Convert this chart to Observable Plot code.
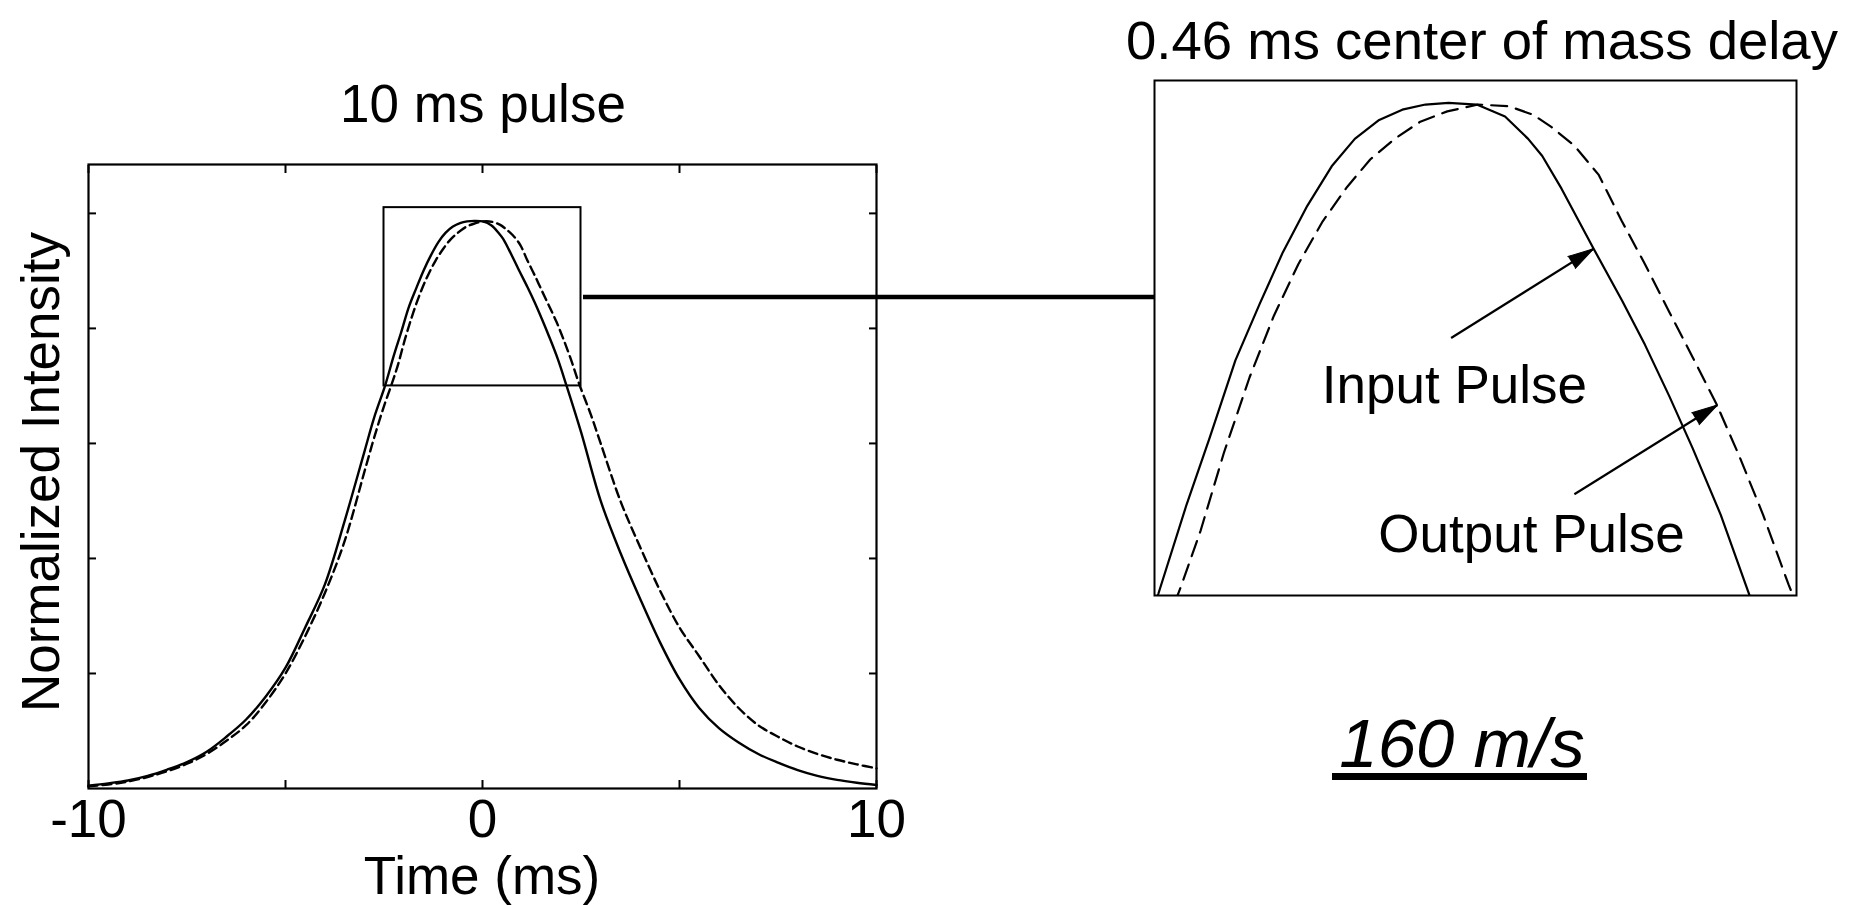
<!DOCTYPE html>
<html>
<head>
<meta charset="utf-8">
<script src="https://cdn.jsdelivr.net/npm/d3@7"></script>
<script src="https://cdn.jsdelivr.net/npm/@observablehq/plot@0.6"></script>
<style>
  body { margin: 0; background: #fff; }
  #page { position: relative; width: 1864px; height: 905px; overflow: hidden; background: #fff; }
  #page > svg { position: absolute; }
</style>
</head>
<body>
<div id="page"></div>
<script>
// Measured pulse shapes (normalized intensity vs. time in ms)
const inputTime = [-10, -9.5, -9, -8.5, -8, -7.5, -7, -6.5, -6, -5.5, -5, -4.5, -4, -3.5, -3, -2.75,
  -2.47, -2.25, -2.07, -1.87, -1.68, -1.5, -1.31, -1.12, -0.94, -0.75, -0.57, -0.39, -0.21, 0.01,
  0.23, 0.41, 0.52, 0.67, 0.92, 1.14, 1.32, 1.51, 1.69, 1.91, 2.13, 2.5, 3, 3.5, 4, 4.5, 5, 5.5,
  6, 6.5, 7, 7.5, 8, 8.5, 9, 9.5, 10];
const inputPulse = [0.005, 0.009, 0.014, 0.022, 0.033, 0.046, 0.064, 0.09, 0.12, 0.16, 0.21, 0.28, 0.355, 0.465, 0.585, 0.645,
  0.701, 0.753, 0.792, 0.837, 0.87, 0.9, 0.927, 0.95, 0.966, 0.977, 0.983, 0.986, 0.987, 0.986,
  0.979, 0.966, 0.956, 0.937, 0.902, 0.872, 0.846, 0.816, 0.786, 0.747, 0.701, 0.62, 0.5, 0.41, 0.33, 0.255, 0.19, 0.14,
  0.105, 0.08, 0.06, 0.045, 0.032, 0.022, 0.015, 0.01, 0.006];

const outputTime = [-10, -9.5, -9, -8.5, -8, -7.5, -7, -6.5, -6, -5.5, -5, -4.5, -4, -3.5, -3, -2.75, -2.5,
  -2.29, -2.14, -1.96, -1.76, -1.57, -1.38, -1.19, -1.0, -0.82, -0.63, -0.43, -0.22, 0.02, 0.26, 0.45,
  0.59, 0.77, 0.96, 1.14, 1.32, 1.51, 1.69, 1.88, 2.05, 2.24, 2.44, 2.75, 3, 3.5, 4, 4.5, 5, 5.5,
  6, 6.5, 7, 7.5, 8, 8.5, 9, 9.5, 10];
const outputPulse = [0.004, 0.007, 0.012, 0.02, 0.03, 0.043, 0.06, 0.083, 0.11, 0.15, 0.2, 0.265, 0.34, 0.43, 0.55, 0.61, 0.665,
  0.706, 0.738, 0.783, 0.827, 0.863, 0.893, 0.918, 0.938, 0.954, 0.966, 0.976, 0.982, 0.986, 0.985, 0.98,
  0.973, 0.962, 0.945, 0.918, 0.893, 0.865, 0.839, 0.811, 0.782, 0.747, 0.706, 0.65, 0.6, 0.5, 0.42, 0.345, 0.28, 0.23,
  0.18, 0.14, 0.11, 0.09, 0.073, 0.06, 0.05, 0.042, 0.035];

// Axis ticks
const timeTicks = [-10, -5, 0, 5, 10];
const timeTickLabels = [-10, 0, 10];
const intensityTicks = [0.2, 0.4, 0.6, 0.8, 1.0];

// Magnified window around the peak
const zoomTime = [-2.5, 2.5];
const zoomIntensity = [0.70, 1.01];
const panelIntensity = [0.70, 1.00];

// Annotations inside the magnified panel
const pulseLabels = ["Input Pulse", "Output Pulse"];
const labelTime = [-0.164, 0.436];
const labelIntensity = [0.812, 0.7256];
const arrowFrom = [[-0.19, 0.850], [0.77, 0.759]];
const arrowTo = [[0.92, 0.902], [1.885, 0.811]];

const FONT = "'Liberation Sans', Arial, Helvetica, sans-serif";
const inputRows = inputTime.map((t, i) => ({t, v: inputPulse[i]}));
const outputRows = outputTime.map((t, i) => ({t, v: outputPulse[i]}));
const windowRows = [{x1: zoomTime[0], x2: zoomTime[1], y1: zoomIntensity[0], y2: zoomIntensity[1]}];
const labelRows = pulseLabels.map((text, i) => ({text, t: labelTime[i], v: labelIntensity[i]}));

const page = document.getElementById("page");
const blank = () => "";

// Full pulse
const main = Plot.plot({
  width: 900, height: 905,
  marginLeft: 88, marginRight: 24, marginTop: 164, marginBottom: 117,
  x: {domain: [-10, 10]},
  y: {domain: [0, 1.085]},
  style: {fontFamily: FONT, fontSize: "53px", color: "#000", background: "transparent", overflow: "visible"},
  marks: [
    Plot.axisX({anchor: "bottom", ticks: timeTicks, tickSize: -8, tickFormat: blank, label: null, strokeWidth: 2}),
    Plot.axisX({anchor: "top", ticks: timeTicks, tickSize: -8, tickFormat: blank, label: null, strokeWidth: 2}),
    Plot.axisY({anchor: "left", ticks: intensityTicks, tickSize: -8, tickFormat: blank, label: null, strokeWidth: 2}),
    Plot.axisY({anchor: "right", ticks: intensityTicks, tickSize: -8, tickFormat: blank, label: null, strokeWidth: 2}),
    Plot.axisX({anchor: "bottom", ticks: timeTickLabels, tickSize: 0, tickPadding: 11, fontSize: 53,
      tickFormat: (d) => String(d), label: null}),
    Plot.line(inputRows, {x: "t", y: "v", stroke: "#000", strokeWidth: 2.4, curve: "catmull-rom"}),
    Plot.line(outputRows, {x: "t", y: "v", stroke: "#000", strokeWidth: 2.4, strokeDasharray: "9,5", curve: "catmull-rom"}),
    Plot.rect(windowRows, {x1: "x1", x2: "x2", y1: "y1", y2: "y2", fill: "none", stroke: "#000", strokeWidth: 2}),
    Plot.frame({stroke: "#000", strokeWidth: 2.2})
  ]
});
main.style.left = "0px";
main.style.top = "0px";
page.appendChild(main);

// Magnified peak
const panelW = 646, panelH = 519, panelM = 2;
const pxPerMs = (panelW - 2 * panelM) / (zoomTime[1] - zoomTime[0]);
const pxPerUnit = (panelH - 2 * panelM) / (panelIntensity[1] - panelIntensity[0]);
const arrowRows = arrowFrom.map((a, i) => {
  const [x2, y2] = arrowTo[i];
  const heading = Math.atan2((y2 - a[1]) * pxPerUnit, (x2 - a[0]) * pxPerMs) * 180 / Math.PI;
  return {x1: a[0], y1: a[1], x2, y2, rotate: 90 - heading};
});

const panel = Plot.plot({
  width: panelW, height: panelH,
  marginLeft: panelM, marginRight: panelM, marginTop: panelM, marginBottom: panelM,
  x: {domain: zoomTime, axis: null},
  y: {domain: panelIntensity, axis: null},
  style: {fontFamily: FONT, fontSize: "53px", color: "#000", background: "transparent", overflow: "visible"},
  marks: [
    Plot.line(inputRows, {x: "t", y: "v", stroke: "#000", strokeWidth: 2.2, clip: true}),
    Plot.line(outputRows, {x: "t", y: "v", stroke: "#000", strokeWidth: 2.2, strokeDasharray: "16,9", clip: true}),
    Plot.link(arrowRows, {x1: "x1", y1: "y1", x2: "x2", y2: "y2", stroke: "#000", strokeWidth: 2.2}),
    Plot.vector(arrowRows, {x: "x2", y: "y2", rotate: "rotate", length: 26, r: 7, shape: "spike",
      anchor: "end", fill: "#000", stroke: "#000", strokeWidth: 1}),
    Plot.text(labelRows, {x: "t", y: "v", text: "text", fontSize: 53, textAnchor: "middle", lineAnchor: "bottom", fill: "#000"}),
    Plot.frame({stroke: "#000", strokeWidth: 2})
  ]
});
panel.style.left = "1152px";
panel.style.top = "78px";
page.appendChild(panel);

// Titles, axis captions, connector and speed caption
const svg = d3.select(page).append("svg")
  .attr("width", 1864).attr("height", 905)
  .style("left", "0px").style("top", "0px")
  .style("pointer-events", "none")
  .attr("font-family", FONT).attr("fill", "#000");

svg.append("text").attr("x", 483).attr("y", 122).attr("text-anchor", "middle")
  .attr("font-size", 53).text("10 ms pulse");
svg.append("text").attr("x", 1482).attr("y", 59).attr("text-anchor", "middle")
  .attr("font-size", 54.5).text("0.46 ms center of mass delay");
svg.append("text").attr("x", 482).attr("y", 894).attr("text-anchor", "middle")
  .attr("font-size", 53).text("Time (ms)");
svg.append("text").attr("transform", "translate(59,472) rotate(-90)").attr("text-anchor", "middle")
  .attr("font-size", 53).text("Normalized Intensity");

// connector from the window on the full pulse to the magnified panel
svg.append("line").attr("x1", 583).attr("x2", 1154).attr("y1", 297).attr("y2", 297)
  .attr("stroke", "#000").attr("stroke-width", 4.5);

svg.append("text").attr("x", 1462).attr("y", 767).attr("text-anchor", "middle")
  .attr("font-size", 69).attr("font-style", "italic").text("160 m/s");
svg.append("rect").attr("x", 1332).attr("y", 773).attr("width", 255).attr("height", 7).attr("fill", "#000");
</script>
</body>
</html>
